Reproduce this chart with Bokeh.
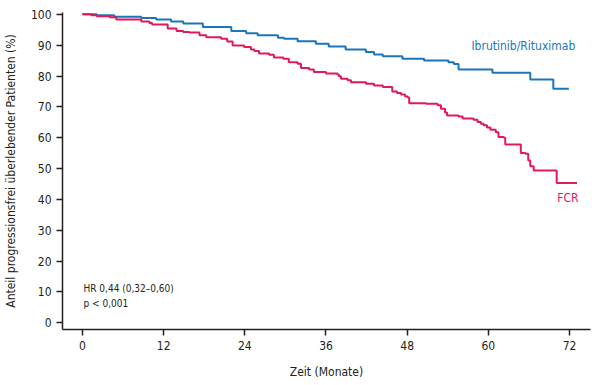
from bokeh.plotting import figure
from bokeh.models import Range1d, FixedTicker, Label
from bokeh.embed import file_html
from bokeh.resources import INLINE

# Kaplan-Meier step data (months, % progression-free)
ibr_months = [0, 2.1, 4.7, 8.7, 10.9, 13.1, 14.9, 17.8, 22.0, 24.2, 25.9, 28.9, 29.8,
              31.8, 34.5, 36.4, 38.9, 41.9, 43.1, 44.4, 47.3, 50.5, 54.1, 54.9, 55.6,
              60.6, 66.2, 69.6, 71.9]
ibr_values = [100, 99.7, 99.2, 98.8, 98.3, 97.7, 97.0, 95.9, 94.6, 93.9, 93.2, 92.4, 92.1,
              91.3, 90.5, 89.6, 88.6, 87.8, 87.0, 86.4, 85.6, 85.0, 84.5, 83.9, 82.1,
              81.1, 78.9, 75.9, 75.9]

fcr_months = [0, 1.3, 2.1, 4.0, 5.0, 8.7, 9.9, 10.3, 12.6, 13.9, 14.9, 15.8, 17.3, 18.3,
              20.5, 21.4, 22.2, 23.9, 24.9, 25.4, 26.1, 27.6, 28.3, 29.7, 30.5, 31.8,
              32.3, 33.5, 34.2, 36.0, 37.7, 37.9, 38.2, 39.2, 39.7, 41.9, 43.1, 44.4,
              45.8, 46.5, 47.1, 47.7, 48.1, 48.3, 50.8, 52.5, 53.0, 53.6, 53.9, 55.6,
              56.2, 57.8, 58.4, 58.9, 59.3, 59.8, 60.3, 61.1, 61.5, 62.3, 62.5, 64.3,
              64.8, 65.5, 65.9, 66.2, 66.7, 70.1, 73.1]
fcr_values = [100, 99.7, 99.4, 99.1, 98.3, 97.7, 97.2, 96.7, 95.4, 94.6, 94.3, 94.1, 93.2, 92.6,
              92.1, 91.2, 89.9, 89.4, 88.6, 88.1, 87.3, 86.9, 86.0, 85.6, 84.5, 84.0,
              82.6, 82.1, 81.3, 80.8, 80.5, 79.9, 79.1, 78.6, 78.0, 77.5, 76.9, 76.4,
              75.0, 74.5, 74.0, 73.4, 73.0, 71.2, 71.0, 70.5, 69.4, 68.2, 67.2, 66.9,
              66.2, 65.8, 65.1, 64.5, 64.0, 63.3, 62.6, 61.8, 60.2, 60.0, 57.8, 57.8,
              55.0, 54.8, 52.6, 50.7, 49.4, 45.3, 45.3]

x_ticks = [0, 12, 24, 36, 48, 60, 72]
y_ticks = [0, 10, 20, 30, 40, 50, 60, 70, 80, 90, 100]

ibr_name = "Ibrutinib/Rituximab"
fcr_name = "FCR"
hr_text = "HR 0,44 (0,32\u20130,60)"
p_text = "p < 0,001"
x_label = "Zeit (Monate)"
y_label = "Anteil progressionsfrei \u00fcberlebender Patienten (%)"

BLUE = "#1b75bb"
RED = "#e0195a"
AX = "#231f20"
FONT = "'DejaVu Sans Condensed', 'Liberation Sans Narrow', 'Roboto', sans-serif"

p = figure(width=600, height=385, output_backend="svg", toolbar_location=None,
           x_range=Range1d(-2.95, 75.1), y_range=Range1d(-2.2, 100.6),
           min_border_left=61, min_border_right=10, min_border_top=12, min_border_bottom=56)
p.outline_line_color = None
p.xgrid.visible = False
p.ygrid.visible = False
p.background_fill_color = "white"

p.step(ibr_months, ibr_values, mode="after", line_color=BLUE, line_width=2)
p.step(fcr_months, fcr_values, mode="after", line_color=RED, line_width=2)

for ax in (p.xaxis[0], p.yaxis[0]):
    ax.axis_line_color = AX
    ax.axis_line_width = 1.5
    ax.major_tick_line_color = AX
    ax.major_tick_line_width = 1.5
    ax.major_tick_out = 6
    ax.major_tick_in = 0
    ax.minor_tick_line_color = None
    ax.major_label_text_font = FONT
    ax.major_label_text_font_size = "12px"
    ax.major_label_text_color = AX
    ax.axis_label_text_font = FONT
    ax.axis_label_text_font_size = "12px"
    ax.axis_label_text_font_style = "normal"
    ax.axis_label_text_color = AX

p.xaxis[0].ticker = FixedTicker(ticks=x_ticks)
p.yaxis[0].ticker = FixedTicker(ticks=y_ticks)
p.xaxis[0].axis_label = x_label
p.yaxis[0].axis_label = y_label
p.xaxis[0].major_label_standoff = 5
p.yaxis[0].major_label_standoff = 5
p.xaxis[0].axis_label_standoff = 12
p.yaxis[0].axis_label_standoff = 10

p.add_layout(Label(x=57.5, y=89.6, text=ibr_name, text_color=BLUE, text_font=FONT,
                   text_font_size="12px", text_align="left", text_baseline="middle"))
p.add_layout(Label(x=70.2, y=40.6, text=fcr_name, text_color=RED, text_font=FONT,
                   text_font_size="12px", text_align="left", text_baseline="middle"))
p.add_layout(Label(x=0.15, y=11.1, text=hr_text, text_color=AX, text_font=FONT,
                   text_font_size="10px", text_align="left", text_baseline="middle"))
p.add_layout(Label(x=0.15, y=6.3, text=p_text, text_color=AX, text_font=FONT,
                   text_font_size="10px", text_align="left", text_baseline="middle"))

open("out.html", "w").write(file_html(p, INLINE))
